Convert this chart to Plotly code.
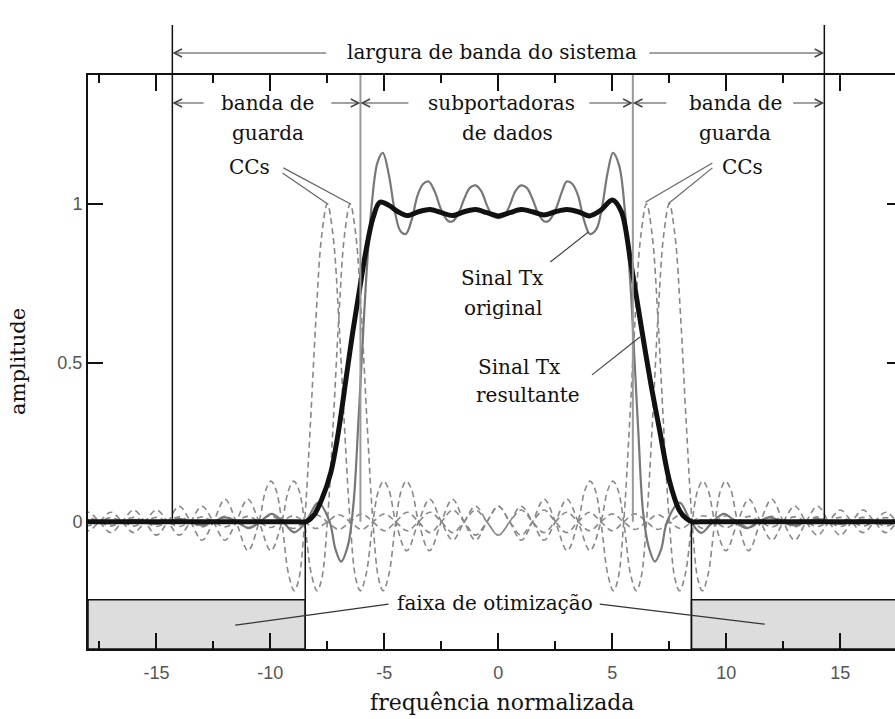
import plotly.graph_objects as go

# ---------------- data ----------------
# Sinal Tx original (thin grey solid)
orig_x = [-18.0, -17.5, -17.0, -16.5, -16.0, -15.5, -15.0, -14.5, -14.0, -13.5, -13.0, -12.5, -12.0,
          -11.45, -10.95, -10.45, -9.95, -9.45, -8.95, -8.45, -7.9, -7.4, -7.15, -6.9, -6.6, -6.35,
          -6.15, -6.0, -5.8, -5.55, -5.3, -5.07, -4.8, -4.55, -4.3, -4.06, -3.8, -3.55, -3.3, -3.06,
          -2.8, -2.5, -2.2, -2.0, -1.75, -1.5, -1.25, -1.0, -0.75, -0.5, -0.25, 0.0,
          0.25, 0.5, 0.75, 1.0, 1.25, 1.5, 1.75, 2.0, 2.2, 2.5, 2.8, 3.0, 3.25, 3.5, 3.75, 4.02,
          4.3, 4.55, 4.8, 5.03, 5.3, 5.55, 5.8, 5.98, 6.15, 6.35, 6.6, 6.87, 7.15, 7.4, 7.95, 8.45,
          8.9, 9.4, 9.9, 10.4, 10.9, 11.4, 11.9, 12.45, 13.0, 13.5, 14.0, 14.5, 15.0, 15.5, 16.0,
          16.5, 17.0, 17.4]
orig_y = [0.004, 0.0, -0.005, 0.0, 0.006, 0.0, -0.007, 0.0, 0.009, 0.0, -0.011, 0.0, 0.014,
          0.0, -0.02, 0.0, 0.025, 0.0, -0.033, 0.0, 0.06, 0.0, -0.085, -0.125, -0.075, 0.06,
          0.3, 0.5, 0.76, 1.0, 1.13, 1.16, 1.09, 0.98, 0.915, 0.905, 0.95, 1.025, 1.062, 1.07,
          1.04, 0.98, 0.946, 0.945, 0.97, 1.015, 1.05, 1.058, 1.04, 0.995, 0.962, 0.955,
          0.962, 0.995, 1.04, 1.058, 1.05, 1.015, 0.97, 0.945, 0.946, 0.98, 1.04, 1.07, 1.062, 1.025, 0.95, 0.905,
          0.92, 0.99, 1.10, 1.16, 1.12, 0.98, 0.74, 0.5, 0.27, 0.03, -0.08, -0.125, -0.085, 0.0, 0.06, 0.0,
          -0.035, 0.0, 0.025, 0.0, -0.02, 0.0, 0.014, 0.0, -0.011, 0.0, 0.009, 0.0, -0.007, 0.0, 0.006,
          0.0, -0.005, 0.0]

# Sinal Tx resultante (thick black)
res_x = [-18.0, -12.0, -9.5, -8.8, -8.45, -8.1, -7.75, -7.35, -7.0, -6.7, -6.4, -6.1, -5.8, -5.5, -5.2,
         -4.8, -4.4, -4.0, -3.5, -3.0, -2.5, -2.0, -1.5, -1.0, -0.5, 0.0, 0.5, 1.0, 1.5, 2.0, 2.5,
         3.0, 3.5, 4.0, 4.5, 5.0, 5.4, 5.8, 6.3, 6.7, 7.07, 7.5, 7.95, 8.25, 8.5, 8.85, 9.5, 12.0, 17.4]
res_y = [0.0, 0.0, 0.0, 0.0, 0.0, 0.02, 0.07, 0.155, 0.29, 0.44, 0.59, 0.725, 0.855, 0.955, 1.005,
         0.995, 0.975, 0.963, 0.975, 0.982, 0.972, 0.963, 0.975, 0.982, 0.972, 0.962, 0.972, 0.982, 0.975, 0.965, 0.975,
         0.982, 0.975, 0.962, 0.98, 1.012, 0.975, 0.82, 0.60, 0.43, 0.29, 0.13, 0.035, 0.01, 0.0, 0.0, 0.0, 0.0, 0.0]

# Cancellation carriers (dashed grey): one pulse shape, repeated at each centre
cc_centers = [-7.5, -6.5, 6.5, 7.5]
cc_offsets = [0, 0.25, 0.5, 0.75, 1.0, 1.25, 1.45, 1.7, 2.0, 2.25, 2.47, 2.7, 3.0, 3.48, 4.0, 4.49, 5.0,
              5.5, 6.0, 6.5, 7.0, 7.5, 8.0, 8.5, 9.0, 9.5, 10.0, 10.5, 11.0, 11.5, 12.0, 12.5, 13.0,
              13.5, 14.0, 14.5, 15.0, 15.5, 16.0, 16.5, 17.0, 17.5, 18.0, 18.5, 19.0, 19.5, 20.0,
              20.5, 21.0, 21.5, 22.0, 22.5, 23.0, 23.5, 24.0, 24.5, 25.0, 25.5, 26.0]
cc_pulse = [1.0, 0.90, 0.64, 0.30, 0.0, -0.18, -0.217, -0.165, 0.0, 0.10, 0.128, 0.10, 0.0, -0.091, 0.0, 0.071, 0.0,
            -0.058, 0.0, 0.049, 0.0, -0.042, 0.0, 0.037, 0.0, -0.034, 0.0, 0.030, 0.0, -0.028, 0.0, 0.025, 0.0,
            -0.024, 0.0, 0.022, 0.0, -0.021, 0.0, 0.019, 0.0, -0.018, 0.0, 0.017, 0.0, -0.016, 0.0,
            0.0155, 0.0, -0.015, 0.0, 0.014, 0.0, -0.0135, 0.0, 0.013, 0.0, -0.0125, 0.0]

band_edges = [-14.3, -6.05, 5.9, 14.3]      # system band / data subcarriers boundaries
opt_edges = [-8.47, 8.47]                   # optimisation range boundaries
opt_level = -0.245                          # top of shaded optimisation boxes

x_ticks = [-15, -10, -5, 0, 5, 10, 15]
x_ticklabels = ["-15", "-10", "-5", "0", "5", "10", "15"]
x_minor = [-17.5, -12.5, -7.5, -2.5, 2.5, 7.5, 12.5]
y_ticks = [0, 0.5, 1]
y_ticklabels = ["0", "0.5", "1"]

X_RANGE = [-18.0, 17.4]
Y_RANGE = [-0.40, 1.405]

# ---------------- figure ----------------
fig = go.Figure()

half_offsets = [-o for o in reversed(cc_offsets[1:])] + cc_offsets
half_pulse = list(reversed(cc_pulse[1:])) + cc_pulse
for c in cc_centers:
    fig.add_trace(go.Scatter(
        x=[c + o for o in half_offsets], y=half_pulse, mode="lines",
        line=dict(color="#888888", width=1.6, dash="6px,4px", shape="spline", smoothing=1.0),
        hoverinfo="skip"))

fig.add_trace(go.Scatter(x=orig_x, y=orig_y, mode="lines",
                         line=dict(color="#777777", width=2.2, shape="spline", smoothing=1.0)))
fig.add_trace(go.Scatter(x=res_x, y=res_y, mode="lines",
                         line=dict(color="#111111", width=5, shape="spline", smoothing=0.9)))
fig.add_trace(go.Scatter(x=[None], y=[None], yaxis="y2", showlegend=False))

# plot area in pixels
L, R, T, B = 88, 895, 75, 649
W, H = R - L, B - T


def p2y(py):
    return (B - py) / H


def y0_paper():
    return (0 - Y_RANGE[0]) / (Y_RANGE[1] - Y_RANGE[0])


shapes = []
# shaded optimisation regions
shapes.append(dict(type="rect", xref="x", yref="y", x0=X_RANGE[0], x1=opt_edges[0], y0=Y_RANGE[0], y1=opt_level,
                   fillcolor="#dddddd", line=dict(color="#111", width=1.5), layer="below"))
shapes.append(dict(type="rect", xref="x", yref="y", x0=opt_edges[1], x1=X_RANGE[1] + 0.5, y0=Y_RANGE[0], y1=opt_level,
                   fillcolor="#dddddd", line=dict(color="#111", width=1.5), layer="below"))
for e in opt_edges:
    shapes.append(dict(type="line", xref="x", yref="y", x0=e, x1=e, y0=Y_RANGE[0], y1=0,
                       line=dict(color="#111", width=1.5)))
# system bandwidth edges (extend above plot)
for e in (band_edges[0], band_edges[3]):
    shapes.append(dict(type="line", xref="x", yref="paper", x0=e, x1=e, y0=p2y(25), y1=y0_paper(),
                       line=dict(color="#111", width=1.5)))
# data subcarrier edges (grey)
for e in (band_edges[1], band_edges[2]):
    shapes.append(dict(type="line", xref="x", yref="paper", x0=e, x1=e, y0=1.0, y1=y0_paper(),
                       line=dict(color="#999999", width=2)))

# leader lines (data coordinates)
leaders = [
    ((-9.43, 1.113), (-6.5, 1.0), "#666"),
    ((-9.47, 1.097), (-7.5, 1.0), "#666"),
    ((9.39, 1.128), (6.45, 1.005), "#666"),
    ((9.39, 1.113), (7.45, 1.0), "#666"),
    ((2.28, 0.817), (3.95, 0.911), "#444"),
    ((4.11, 0.462), (6.21, 0.581), "#444"),
    ((-4.82, -0.259), (-11.54, -0.325), "#333"),
    ((4.45, -0.259), (11.69, -0.322), "#333"),
]
for (a, b, col) in leaders:
    shapes.append(dict(type="line", xref="x", yref="y", x0=a[0], y0=a[1], x1=b[0], y1=b[1],
                       line=dict(color=col, width=1.2)))

ann = []


def arrow(x_head, x_tail, py):
    ann.append(dict(x=x_head, y=p2y(py), xref="x", yref="paper", ax=x_tail, ay=0, axref="x", ayref="pixel",
                    showarrow=True, arrowhead=5, arrowsize=1.3, arrowwidth=1.2, arrowcolor="#444",
                    text="", standoff=0, startstandoff=0))


def txt(s, x, py, size=20):
    ann.append(dict(text=s, x=x, y=p2y(py), xref="x", yref="paper", showarrow=False,
                    font=dict(family="DejaVu Serif", size=size, color="#111"),
                    xanchor="center", yanchor="middle"))


# top: system bandwidth
arrow(band_edges[0], -7.48, 53)
arrow(band_edges[3], 6.56, 53)
txt("largura de banda do sistema", -0.26, 52)
# guard bands and data subcarriers
arrow(band_edges[0], -12.86, 103)
arrow(band_edges[1], -7.39, 103)
txt("banda de", -10.13, 103)
txt("guarda", -10.1, 133)
txt("CCs", -10.9, 167)
arrow(band_edges[1], -3.88, 103)
arrow(band_edges[2], 3.93, 103)
txt("subportadoras", 0.13, 103)
txt("de dados", 0.42, 133)
arrow(band_edges[2], 7.43, 103)
arrow(band_edges[3], 12.87, 103)
txt("banda de", 10.39, 103)
txt("guarda", 10.39, 133)
txt("CCs", 10.7, 167)
# curve labels
txt("Sinal Tx", 0.2, 278)
txt("original", 0.2, 308)
txt("Sinal Tx", 0.94, 367)
txt("resultante", 1.29, 395)
txt("faixa de otimização", -0.13, 603)

# axis titles
ann.append(dict(text="frequência normalizada", x=(502 - L) / W, y=p2y(703), xref="paper", yref="paper",
                showarrow=False, font=dict(family="DejaVu Serif", size=22, color="#111"),
                xanchor="center", yanchor="middle"))
ann.append(dict(text="amplitude", x=(18 - L) / W, y=p2y(362), xref="paper", yref="paper", textangle=-90,
                showarrow=False, font=dict(family="DejaVu Serif", size=21, color="#111"),
                xanchor="center", yanchor="middle"))

tickfont = dict(family="Liberation Sans, Arial", size=18, color="#555555")

fig.update_layout(
    width=895, height=719,
    margin=dict(l=L, r=0, t=T, b=719 - B),
    paper_bgcolor="white", plot_bgcolor="white",
    showlegend=False,
    shapes=shapes, annotations=ann,
    xaxis=dict(range=X_RANGE, tickmode="array", tickvals=x_ticks, ticktext=x_ticklabels, ticks="inside",
               ticklen=16, tickwidth=1.5,
               tickcolor="#111", showline=True, linecolor="#111", linewidth=2, mirror="ticks",
               showgrid=False, zeroline=False, tickfont=tickfont, ticklabelstandoff=6,
               minor=dict(tickmode="array", tickvals=x_minor, ticks="inside", ticklen=8, tickwidth=1.5,
                          tickcolor="#111", showgrid=False)),
    yaxis=dict(range=Y_RANGE, tickmode="array", tickvals=y_ticks, ticktext=y_ticklabels, ticks="inside",
               ticklen=15, tickwidth=1.5, tickcolor="#111", showline=True, linecolor="#111", linewidth=2,
               mirror=False, showgrid=False, zeroline=False, tickfont=tickfont),
    yaxis2=dict(range=Y_RANGE, overlaying="y", side="right", tickmode="array", tickvals=[0.5, 1],
                ticks="inside", ticklen=8, tickwidth=1.5, tickcolor="#111", showline=False,
                showticklabels=False, showgrid=False, zeroline=False),
)

fig.write_html("out.html", config={"displayModeBar": False},
               post_script="document.body.style.margin='0';document.body.style.overflow='hidden';")
